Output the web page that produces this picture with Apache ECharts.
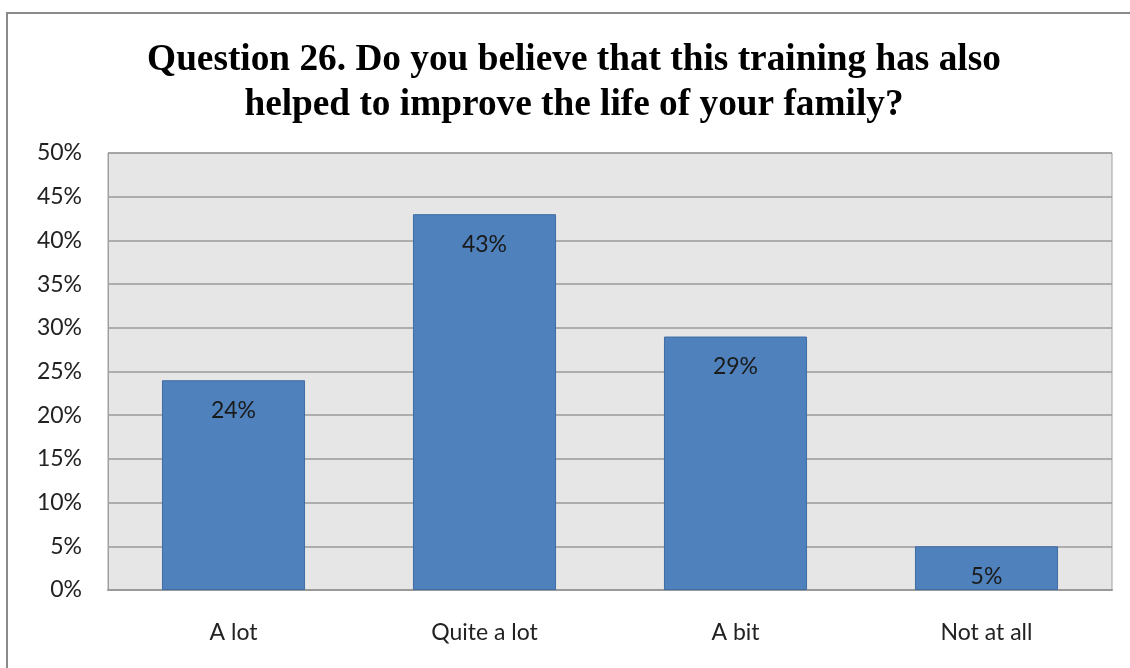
<!DOCTYPE html>
<html>
<head>
<meta charset="utf-8">
<script src="https://cdn.jsdelivr.net/npm/echarts@6/dist/echarts.min.js"></script>
<style>html,body{margin:0;padding:0;background:#fff;}#c{width:1130px;height:668px;}</style>
</head>
<body>
<div id="c"></div>
<script>
const titleText = 'Question 26. Do you believe that this training has also\nhelped to improve the life of your family?';
const categories = ['A lot', 'Quite a lot', 'A bit', 'Not at all'];
const values = [24, 43, 29, 5];
const yTicks = { min: 0, max: 50, interval: 5 };

const chart = echarts.init(document.getElementById('c'), null, { renderer: 'canvas' });
chart.setOption({
  animation: false,
  backgroundColor: '#ffffff',
  graphic: [{
    type: 'rect', shape: { x: 7, y: 13, width: 1300, height: 800 },
    style: { fill: 'none', stroke: '#8a8a8a', lineWidth: 2 }, z: -1
  }],
  title: {
    text: titleText, left: 574, top: 38, textAlign: 'center',
    padding: 0,
    textStyle: { fontFamily: 'Liberation Serif', fontWeight: 'bold', fontSize: 37.3, lineHeight: 45, color: '#000' }
  },
  grid: { left: 108, top: 153, right: 18, bottom: 78, show: true, backgroundColor: '#e6e6e6', borderColor: '#a0a0a0', borderWidth: 1 },
  xAxis: {
    type: 'category', data: categories,
    axisLine: { show: true, lineStyle: { color: '#9a9a9a', width: 2 } },
    axisTick: { show: false },
    axisLabel: { margin: 31, fontFamily: 'Lato', fontSize: 23, color: '#222' }
  },
  yAxis: {
    type: 'value', min: yTicks.min, max: yTicks.max, interval: yTicks.interval,
    axisLine: { show: true, lineStyle: { color: '#a0a0a0' } },
    axisTick: { show: false },
    splitLine: { lineStyle: { color: '#9a9a9a', width: 1.5 } },
    axisLabel: { margin: 26, fontFamily: 'Lato', fontSize: 23, color: '#222', formatter: v => v + '%' }
  },
  series: [{
    type: 'bar', data: values, barWidth: '57%',
    itemStyle: { color: '#4f81bd', borderColor: '#3e6ca3', borderWidth: 1 },
    label: { show: true, position: 'insideTop', distance: 19, fontFamily: 'Lato', fontSize: 23, color: '#1a1a1a', formatter: p => p.value + '%' }
  }]
});
</script>
</body>
</html>
